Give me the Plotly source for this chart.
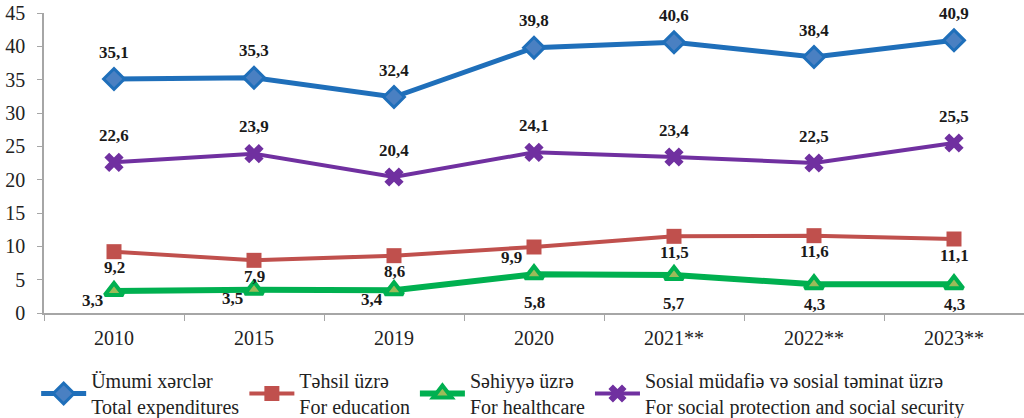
import plotly.graph_objects as go

years = ["2010", "2015", "2019", "2020", "2021**", "2022**", "2023**"]
total = [35.1, 35.3, 32.4, 39.8, 40.6, 38.4, 40.9]
education = [9.2, 7.9, 8.6, 9.9, 11.5, 11.6, 11.1]
health = [3.3, 3.5, 3.4, 5.8, 5.7, 4.3, 4.3]
social = [22.6, 23.9, 20.4, 24.1, 23.4, 22.5, 25.5]

names = [
    "Ümumi xərclər<br>Total expenditures",
    "Təhsil üzrə<br>For education",
    "Səhiyyə üzrə<br>For healthcare",
    "Sosial müdafiə və sosial təminat üzrə<br>For social protection and social security",
]

FONT = "Liberation Serif, Times New Roman, serif"

# label placement styles (offsets in px)
PLACE = {
    "above": (0, 27),
    "below": (0, -16),
    "below_mid": (0, -20),
    "below_far": (0, -28),
    "below_left": (-23, -10),
    "left_below": (-22, -9),
}
total_place = ["above"] * 7
social_place = ["above"] * 7
edu_place = ["below", "below", "below", "below_left", "below", "below", "below"]
health_place = ["left_below"] * 3 + ["below_far", "below_far", "below_mid", "below_mid"]

def lab(v):
    return f"{v:.1f}".replace(".", ",")

fig = go.Figure()
fig.add_trace(go.Scatter(
    x=years, y=total, name=names[0], mode="lines+markers",
    line=dict(color="#1f6fba", width=5),
    marker=dict(symbol="diamond", size=16, color="#4a80c2", line=dict(color="#1f6fba", width=3))))
fig.add_trace(go.Scatter(
    x=years, y=education, name=names[1], mode="lines+markers",
    line=dict(color="#c0504d", width=4),
    marker=dict(symbol="square", size=15, color="#c0504d")))
fig.add_trace(go.Scatter(
    x=years, y=health, name=names[2], mode="lines+markers",
    line=dict(color="#00b050", width=6),
    marker=dict(symbol="triangle-up", size=16, color="#9bbb59", line=dict(color="#00b050", width=4))))
fig.add_trace(go.Scatter(
    x=years, y=social, name=names[3], mode="lines+markers",
    line=dict(color="#7030a0", width=4),
    marker=dict(symbol="x", size=17, color="#7030a0")))

for vals, places in [(total, total_place), (social, social_place),
                     (education, edu_place), (health, health_place)]:
    for i, (yv, p) in enumerate(zip(vals, places)):
        dx, dy = PLACE[p]
        fig.add_annotation(x=i, y=yv, text=f"<b>{lab(yv)}</b>", showarrow=False,
                           xshift=dx, yshift=dy,
                           font=dict(family=FONT, size=17, color="#1a1a1a"))

fig.update_layout(
    width=1024, height=418,
    margin=dict(l=44, r=0, t=13, b=105, autoexpand=False),
    paper_bgcolor="white", plot_bgcolor="white",
    font=dict(family=FONT, size=20, color="#222222"),
    showlegend=True,
    legend=dict(orientation="h", x=-0.008, xanchor="left", y=-0.16, yanchor="top",
                font=dict(family=FONT, size=20, color="#222222"),
                itemwidth=45, tracegroupgap=0, bgcolor="rgba(0,0,0,0)"),
    xaxis=dict(type="category", categoryorder="array", categoryarray=years,
               range=[-0.5, len(years) - 0.5],
               showline=True, linecolor="#a6a6a6", linewidth=1.5, ticks="outside",
               tickson="boundaries", ticklen=6, tickcolor="#a6a6a6", showgrid=False,
               tickfont=dict(family=FONT, size=20), automargin=False, ticklabelstandoff=6,
               tickangle=0),
    yaxis=dict(range=[0, 45], dtick=5, showline=True, linecolor="#a6a6a6", linewidth=1.5,
               ticks="outside", ticklen=5, tickcolor="#a6a6a6", showgrid=False,
               zeroline=False, tickfont=dict(family=FONT, size=20), automargin=False,
               ticklabelstandoff=8),
)

fig.write_html("out.html", config={"displayModeBar": False},
               post_script="document.documentElement.style.margin='0';document.body.style.margin='0';")
